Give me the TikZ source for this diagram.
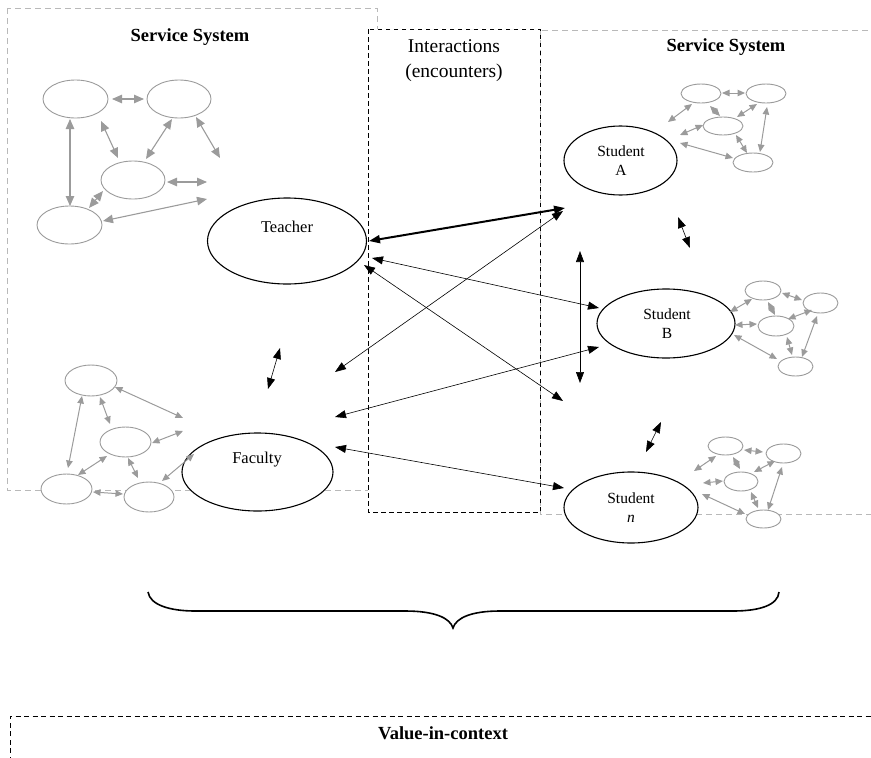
\documentclass[tikz,border=0pt]{standalone}
\usepackage{fontspec}
\setmainfont{Liberation Serif}
\usetikzlibrary{arrows.meta,shapes.geometric}
\definecolor{sg}{RGB}{155,155,155}
\definecolor{bg}{RGB}{185,185,185}
\tikzset{
  gbox/.style={draw=bg, line width=0.8pt, dash pattern=on 6pt off 4pt},
  kbox/.style={draw=black, line width=0.8pt, dash pattern=on 4.5pt off 3.5pt},
  gell/.style={draw=sg, fill=white, ellipse, line width=0.9pt, inner sep=0pt},
  bell/.style={draw=black, fill=white, ellipse, line width=1.1pt, inner sep=0pt},
  garr/.style={draw=sg, line width=1.1pt, {Triangle[length=10pt,width=8.5pt,fill=sg]}-{Triangle[length=10pt,width=8.5pt,fill=sg]}},
  sarr/.style={draw=sg, line width=1pt, {Triangle[length=7.5pt,width=6.5pt,fill=sg]}-{Triangle[length=7.5pt,width=6.5pt,fill=sg]}},
  barr/.style={draw=black, line width=0.6pt, {Triangle[length=11pt,width=8pt]}-{Triangle[length=11pt,width=8pt]}},
  thickarr/.style={draw=black, line width=2pt, {Triangle[length=11pt,width=8pt]}-{Triangle[length=11pt,width=8pt]}},
  ttl/.style={font=\fontsize{18.5}{22}\selectfont\bfseries, inner sep=0pt},
  lbl/.style={font=\fontsize{16.5}{20}\selectfont, inner sep=0pt},
  slbl/.style={font=\fontsize{15.5}{19}\selectfont, inner sep=0pt, align=center},
}
\begin{document}
\begin{tikzpicture}[x=1pt,y=-1pt]
\useasboundingbox (0,0) rectangle (871,758);
% service system boxes
\draw[gbox] (7,8) rectangle (377,490);
\draw[gbox] (540,30) rectangle (890,514);
% interactions box
\draw[kbox, fill=white] (368,29) rectangle (540,512);
\node[font=\fontsize{19.5}{25}\selectfont, align=center, inner sep=0pt] (inter) at (454,61) {Interactions\\(encounters)};
\node[ttl] (ssl) at (190,37) {Service System};
\node[ttl] (ssr) at (726,47) {Service System};

% main actors
\node[bell, minimum width=159pt, minimum height=86pt] (teacher) at (287,241) {};
\node[lbl] (teacherlbl) at (287,227) {Teacher};
\node[bell, minimum width=151pt, minimum height=78pt] (faculty) at (257.5,472) {};
\node[lbl] (facultylbl) at (257,460) {Faculty};
\node[bell, minimum width=113pt, minimum height=69pt] (stA) at (620.5,160.5) {};
\node[slbl] (stAlbl) at (621,161) {Student\\A};
\node[bell, minimum width=138pt, minimum height=69pt] (stB) at (666,323.5) {};
\node[slbl] (stBlbl) at (667,324) {Student\\B};
\node[bell, minimum width=134pt, minimum height=71pt] (stN) at (631,507.5) {};
\node[slbl] (stNlbl) at (631,508) {Student\\\textit{n}};

% top-left network
\node[gell, minimum width=65pt, minimum height=38pt] (E1) at (75.5,99) {};
\node[gell, minimum width=64pt, minimum height=38pt] (E2) at (179,99) {};
\node[gell, minimum width=64pt, minimum height=38pt] (E3) at (133,180) {};
\node[gell, minimum width=65pt, minimum height=38pt] (E4) at (69.5,225) {};
\path (112,99) coordinate (tl1a) (144,99) coordinate (tl1b)
      (70,119) coordinate (tl2a) (70,206) coordinate (tl2b)
      (101,121) coordinate (tl3a) (118,158) coordinate (tl3b)
      (172,119) coordinate (tl4a) (146,159) coordinate (tl4b)
      (196,117) coordinate (tl5a) (220,158) coordinate (tl5b)
      (167,182) coordinate (tl6a) (207,182) coordinate (tl6b)
      (103,191) coordinate (tl7a) (89,208) coordinate (tl7b)
      (103,221) coordinate (tl8a) (207,199) coordinate (tl8b);
\foreach \i in {1,...,8} \draw[garr] (tl\i a) -- (tl\i b);

% bottom-left network
\node[gell, minimum width=52pt, minimum height=31pt] (F1) at (91,380.5) {};
\node[gell, minimum width=51pt, minimum height=30pt] (F2) at (125.5,442) {};
\node[gell, minimum width=51pt, minimum height=30pt] (F3) at (66.5,489) {};
\node[gell, minimum width=50pt, minimum height=30pt] (F4) at (149,497) {};
\path (115,387) coordinate (bl1a) (183,418) coordinate (bl1b)
      (100,397) coordinate (bl2a) (110,424) coordinate (bl2b)
      (82,396) coordinate (bl3a) (68,468) coordinate (bl3b)
      (152,443) coordinate (bl4a) (183,431) coordinate (bl4b)
      (107,456) coordinate (bl5a) (78,475) coordinate (bl5b)
      (128,458) coordinate (bl6a) (138,478) coordinate (bl6b)
      (93,492) coordinate (bl7a) (123,494) coordinate (bl7b)
      (162,481) coordinate (bl8a) (194,454) coordinate (bl8b);
\foreach \i in {1,...,8} \draw[sarr] (bl\i a) -- (bl\i b);

% top-right network
\node[gell, minimum width=40pt, minimum height=19pt] (G1) at (701,93.5) {};
\node[gell, minimum width=40pt, minimum height=19pt] (G2) at (766,93.5) {};
\node[gell, minimum width=40pt, minimum height=18pt] (G3) at (723,126) {};
\node[gell, minimum width=40pt, minimum height=19pt] (G4) at (753,162.5) {};
\path (722,93) coordinate (tr1a) (745,93) coordinate (tr1b)
      (692,104) coordinate (tr2a) (668,122) coordinate (tr2b)
      (710,106) coordinate (tr3a) (720,116) coordinate (tr3b)
      (757,104) coordinate (tr4a) (737,117) coordinate (tr4b)
      (767,107) coordinate (tr5a) (760,152) coordinate (tr5b)
      (703,125) coordinate (tr6a) (680,135) coordinate (tr6b)
      (736,135) coordinate (tr7a) (747,153) coordinate (tr7b)
      (733,158) coordinate (tr8a) (680,143) coordinate (tr8b);
\foreach \i in {1,...,8} \draw[sarr] (tr\i a) -- (tr\i b);

% middle-right network
\node[gell, minimum width=36pt, minimum height=19pt] (H1) at (763,290.5) {};
\node[gell, minimum width=35pt, minimum height=20pt] (H2) at (820.5,303) {};
\node[gell, minimum width=36pt, minimum height=20pt] (H3) at (776,326) {};
\node[gell, minimum width=35pt, minimum height=19pt] (H4) at (795.5,366.5) {};
\path (752,299) coordinate (mr1a) (730,312) coordinate (mr1b)
      (782,293) coordinate (mr2a) (802,300) coordinate (mr2b)
      (768,302) coordinate (mr3a) (775,315) coordinate (mr3b)
      (812,310) coordinate (mr4a) (788,319) coordinate (mr4b)
      (817,316) coordinate (mr5a) (802,357) coordinate (mr5b)
      (757,324) coordinate (mr6a) (735,325) coordinate (mr6b)
      (787,337) coordinate (mr7a) (792,355) coordinate (mr7b)
      (777,359) coordinate (mr8a) (734,335) coordinate (mr8b);
\foreach \i in {1,...,8} \draw[sarr] (mr\i a) -- (mr\i b);

% bottom-right network
\node[gell, minimum width=35pt, minimum height=18pt] (K1) at (725.5,446) {};
\node[gell, minimum width=35pt, minimum height=19pt] (K2) at (783.5,453.5) {};
\node[gell, minimum width=34pt, minimum height=19pt] (K3) at (741,481.5) {};
\node[gell, minimum width=35pt, minimum height=18pt] (K4) at (763.5,519) {};
\path (716,456) coordinate (br1a) (694,471) coordinate (br1b)
      (744,450) coordinate (br2a) (763,452) coordinate (br2b)
      (733,457) coordinate (br3a) (740,469) coordinate (br3b)
      (775,461) coordinate (br4a) (754,472) coordinate (br4b)
      (782,467) coordinate (br5a) (768,510) coordinate (br5b)
      (723,481) coordinate (br6a) (703,483) coordinate (br6b)
      (751,492) coordinate (br7a) (758,508) coordinate (br7b)
      (745,514) coordinate (br8a) (702,494) coordinate (br8b);
\foreach \i in {1,...,8} \draw[sarr] (br\i a) -- (br\i b);

% black interaction arrows
\path (369,241) coordinate (k1a) (565,208) coordinate (k1b)
      (372,258) coordinate (k2a) (599,308) coordinate (k2b)
      (364,265) coordinate (k3a) (563,401) coordinate (k3b)
      (563,211) coordinate (k4a) (335,372) coordinate (k4b)
      (335,417) coordinate (k5a) (599,347) coordinate (k5b)
      (580,251) coordinate (k6a) (580,383) coordinate (k6b)
      (280,348) coordinate (k7a) (268,389) coordinate (k7b)
      (335,447) coordinate (k8a) (564,488) coordinate (k8b)
      (678,217) coordinate (k9a) (690,248) coordinate (k9b)
      (661,422) coordinate (k10a) (646,452) coordinate (k10b);
\draw[thickarr] (k1a) -- (k1b);
\foreach \i in {2,...,10} \draw[barr] (k\i a) -- (k\i b);

% brace
\draw[line width=1.6pt] (148,592) .. controls (150,605) and (170,611) .. (195,611)
  -- (405,611) .. controls (435,611) and (450,618) .. (453,628)
  .. controls (456,618) and (471,611) .. (500,611)
  -- (733,611) .. controls (760,611) and (778,605) .. (779,592);

% value-in-context box
\draw[draw=black, line width=0.8pt, dash pattern=on 5pt off 3.5pt] (10,770) -- (10,716) -- (880,716);
\node[ttl] (value) at (443,733) {Value-in-context};
\end{tikzpicture}
\end{document}
